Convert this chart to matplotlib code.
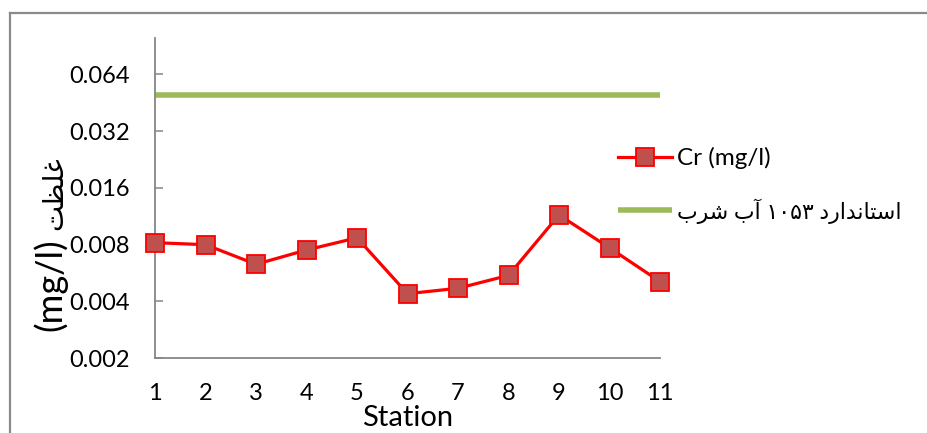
import matplotlib
matplotlib.use("Agg")
import matplotlib.pyplot as plt
from matplotlib.lines import Line2D
from matplotlib.ticker import FixedLocator, FixedFormatter, NullLocator

plt.rcParams['font.family'] = ['Lato', 'DejaVu Sans']

# ---- data ----
stations = [1, 2, 3, 4, 5, 6, 7, 8, 9, 10, 11]
cr_values = [0.0082, 0.0080, 0.0063, 0.0075, 0.0087, 0.0044, 0.0047, 0.0055, 0.0115, 0.0077, 0.0051]
standard_limit = 0.05
y_ticks = [0.002, 0.004, 0.008, 0.016, 0.032, 0.064]
y_tick_labels = ["0.002", "0.004", "0.008", "0.016", "0.032", "0.064"]
series_label = "Cr (mg/l)"


# ---- simple Arabic/Persian contextual shaping (presentation forms, visual order) ----
FORMS = {
    'ا': ('\uFE8D', '\uFE8E', None, None),
    'آ': ('\uFE81', '\uFE82', None, None),
    'ب': ('\uFE8F', '\uFE90', '\uFE91', '\uFE92'),
    'ت': ('\uFE95', '\uFE96', '\uFE97', '\uFE98'),
    'د': ('\uFEA9', '\uFEAA', None, None),
    'ر': ('\uFEAD', '\uFEAE', None, None),
    'س': ('\uFEB1', '\uFEB2', '\uFEB3', '\uFEB4'),
    'ش': ('\uFEB5', '\uFEB6', '\uFEB7', '\uFEB8'),
    'ظ': ('\uFEC5', '\uFEC6', '\uFEC7', '\uFEC8'),
    'غ': ('\uFECD', '\uFECE', '\uFECF', '\uFED0'),
    'ل': ('\uFEDD', '\uFEDE', '\uFEDF', '\uFEE0'),
    'ن': ('\uFEE5', '\uFEE6', '\uFEE7', '\uFEE8'),
}
DUAL = {c for c, f in FORMS.items() if f[2] is not None}


def shape(word):
    out = []
    for i, c in enumerate(word):
        prev = word[i - 1] if i > 0 else None
        nxt = word[i + 1] if i + 1 < len(word) else None
        join_prev = prev in DUAL
        join_next = c in DUAL and nxt in FORMS
        iso, fin, ini, med = FORMS[c]
        if join_prev and join_next:
            g = med
        elif join_prev:
            g = fin
        elif join_next:
            g = ini
        else:
            g = iso
        out.append(g)
    return ''.join(reversed(out))


standard_label = ' '.join([shape('شرب'), shape('آب'), '۱۰۵۳', shape('استاندارد')])
ylabel_word = shape('غلظت')

# ---- figure ----
W, H = 927, 433
fig = plt.figure(figsize=(W / 100, H / 100), dpi=100)
fig.patch.set_facecolor('white')

# chart-area frame (left and top edges visible)
frame_c = '#8a8a8a'
fig.add_artist(Line2D([9.5 / W, 9.5 / W], [0, 1 - 13 / H], transform=fig.transFigure,
                      color=frame_c, lw=1.6))
fig.add_artist(Line2D([9.5 / W, 1], [1 - 13 / H, 1 - 13 / H], transform=fig.transFigure,
                      color=frame_c, lw=1.6))

left, right = 155 / W, 660 / W
bottom, top = 1 - 358.3 / H, 1 - 37.7 / H
ax = fig.add_axes([left, bottom, right - left, top - bottom])

ax.set_yscale('log', base=2)
ax.set_ylim(0.002, 0.1)
ax.set_xlim(1, 11)

ax.plot(stations, [standard_limit] * len(stations), color='#9BBB59', lw=4.0,
        solid_capstyle='butt', label=standard_label, zorder=2)
ax.plot(stations, cr_values, color='#FF0000', lw=2.3, marker='s', markersize=13,
        markerfacecolor='#C0504D', markeredgecolor='#FF0000', markeredgewidth=1.3,
        label=series_label, zorder=3, clip_on=False)

ax.yaxis.set_major_locator(FixedLocator(y_ticks))
ax.yaxis.set_major_formatter(FixedFormatter(y_tick_labels))
ax.yaxis.set_minor_locator(NullLocator())
ax.set_xticks(stations)
ax.set_xticklabels([str(s) for s in stations])

for side in ('top', 'right'):
    ax.spines[side].set_visible(False)
for side in ('left', 'bottom'):
    ax.spines[side].set_color('#868686')
    ax.spines[side].set_linewidth(1.3)

ax.tick_params(axis='y', direction='in', length=6, width=1.1, color='#868686',
               labelsize=17, pad=18)
ax.tick_params(axis='x', length=0, labelsize=17, pad=18)

fig.text((155 + 660) / 2 / W, 1 - 418 / H, 'Station', ha='center', va='center',
         fontsize=21)

# y-axis title: unit in parentheses below the Persian word, reading upward
fig.text(50 / W, 1 - 285 / H, '(mg/l)', rotation=90, ha='center', va='center',
         fontsize=26)
fig.text(54 / W, 1 - 193 / H, ylabel_word, rotation=90, ha='center', va='center',
         fontsize=20, family='DejaVu Sans')

handles, labels = ax.get_legend_handles_labels()
leg = fig.legend(handles[::-1], labels[::-1], loc='center left',
                 bbox_to_anchor=(618 / W, 1 - 185.5 / H), frameon=False,
                 fontsize=17.5, handlelength=2.22, handletextpad=0.22,
                 labelspacing=1.2, borderaxespad=0, borderpad=0)
leg.get_texts()[1].set_fontsize(15.8)

fig.savefig('out.png', dpi=100, facecolor='white')
